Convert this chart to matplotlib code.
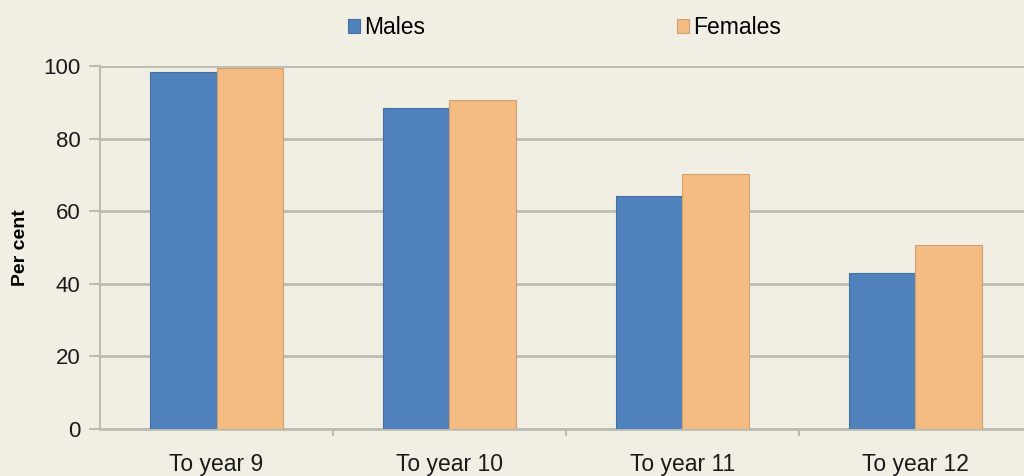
import numpy as np
import matplotlib.pyplot as plt

plt.rcParams['font.family'] = ['Liberation Sans', 'DejaVu Sans']

# Retention rates by sex
categories = ["To year 9", "To year 10", "To year 11", "To year 12"]
males = [98.3, 88.4, 64.2, 43.0]
females = [99.4, 90.6, 70.2, 50.7]

bg = "#f1efe4"
grid_col = "#bdbcb2"

fig = plt.figure(figsize=(10.24, 4.76), dpi=100, facecolor=bg)
ax = fig.add_axes([0.0977, 0.0987, 0.910, 0.7626], facecolor=bg)

x = np.arange(len(categories))
w = 0.287
ax.bar(x - w / 2, males, w, color="#4f81bd", edgecolor="#44709f", linewidth=0.8,
       label="Males", zorder=3)
ax.bar(x + w / 2, females, w, color="#f4bc82", edgecolor="#cfa070", linewidth=0.8,
       label="Females", zorder=3)

ax.set_xlim(-0.5, 3.5)
ax.set_ylim(0, 100)
ax.set_yticks([0, 20, 40, 60, 80, 100])
ax.yaxis.grid(True, color=grid_col, linewidth=2, zorder=0)
ax.set_axisbelow(True)

ax.set_xticks(x)
ax.set_xticklabels(categories, fontsize=16.5, color="#1a1a1a")
ax.set_xticks(x[:-1] + 0.5, minor=True)
ax.tick_params(axis="x", which="major", length=0, pad=17)
ax.tick_params(axis="x", which="minor", length=5, color=grid_col, width=1.5)
ax.tick_params(axis="y", length=8, color=grid_col, width=1.5, labelsize=16,
               labelcolor="#1a1a1a", pad=6)

for s in ["top", "right"]:
    ax.spines[s].set_visible(False)
ax.spines["left"].set_color(grid_col)
ax.spines["left"].set_linewidth(1.5)
ax.spines["bottom"].set_color(grid_col)
ax.spines["bottom"].set_linewidth(2)

ax.set_ylabel("Per cent", fontsize=14, fontweight="bold", labelpad=10)

leg = fig.legend(loc="upper center", bbox_to_anchor=(0.551, 1.01), ncol=2, frameon=False,
                 fontsize=16.5, handlelength=0.55, handleheight=0.55, handletextpad=0.15,
                 columnspacing=11)

fig.savefig("out.png", dpi=100, facecolor=bg)
